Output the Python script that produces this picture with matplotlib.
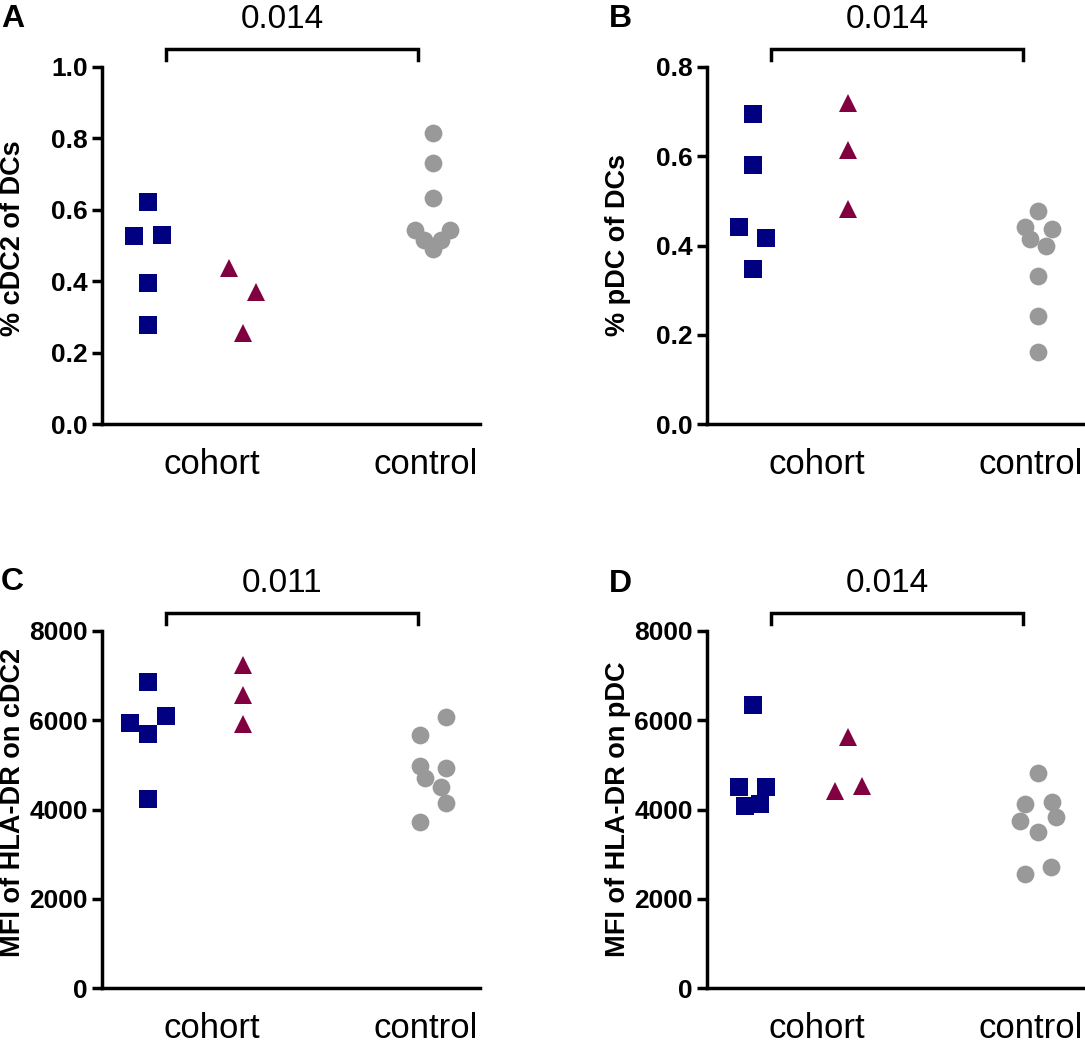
import matplotlib
matplotlib.use("Agg")
import matplotlib.pyplot as plt
import numpy as np

plt.rcParams['font.family'] = ['Liberation Sans', 'DejaVu Sans']

# ---------------- data ----------------
groups = ["cohort (sq)", "cohort (tri)", "control"]
xtick_labels = ["cohort", "control"]

# Panel A: % cDC2 of DCs
a_sq = [0.621, 0.527, 0.529, 0.394, 0.277]
a_tri = [0.438, 0.371, 0.255]
a_circ = [0.814, 0.730, 0.633, 0.543, 0.543, 0.515, 0.515, 0.490]
# Panel B: % pDC of DCs
b_sq = [0.695, 0.580, 0.442, 0.417, 0.348]
b_tri = [0.720, 0.613, 0.481]
b_circ = [0.478, 0.442, 0.436, 0.414, 0.398, 0.331, 0.243, 0.161]
# Panel C: MFI of HLA-DR on cDC2
c_sq = [6863, 6094, 5944, 5690, 4225]
c_tri = [7238, 6565, 5907]
c_circ = [6078, 5661, 4979, 4928, 4710, 4508, 4149, 3709]
# Panel D: MFI of HLA-DR on pDC
d_sq = [6347, 4508, 4508, 4134, 4074]
d_tri = [5629, 4523, 4414]
d_circ = [4808, 4172, 4120, 3822, 3746, 3499, 2714, 2565]

p_values = ["0.014", "0.014", "0.011", "0.014"]
panel_letters = ["A", "B", "C", "D"]
y_labels = ["% cDC2 of DCs", "% pDC of DCs", "MFI of HLA-DR on cDC2", "MFI of HLA-DR on pDC"]
y_ticks = [[0.0, 0.2, 0.4, 0.6, 0.8, 1.0], [0.0, 0.2, 0.4, 0.6, 0.8],
           [0, 2000, 4000, 6000, 8000], [0, 2000, 4000, 6000, 8000]]
y_ticklabels = [["0.0", "0.2", "0.4", "0.6", "0.8", "1.0"], ["0.0", "0.2", "0.4", "0.6", "0.8"],
                ["0", "2000", "4000", "6000", "8000"], ["0", "2000", "4000", "6000", "8000"]]

# horizontal scatter layout (swarm offsets, in pixels)
a_sq_off = [0, -14, 14, 0, 0]
a_tri_off = [-14, 13, 0]
a_circ_off = [0, 0, 0, -17.7, 17.3, -9.3, 8.3, 0]
b_sq_off = [0, 0, -14, 13.3, 0]
b_tri_off = [0, 0, 0]
b_circ_off = [0, -13, 14, -8, 8, 0, 0, 0]
c_sq_off = [0, 18.3, -18, 0, 0]
c_tri_off = [0, 0, 0]
c_circ_off = [13.3, -13.3, -13.3, 13.3, -7.7, 8, 13.3, -13.3]
d_sq_off = [0, -14, 13.3, 7.3, -8.3]
d_tri_off = [0, 14, -12.7]
d_circ_off = [0, 13.7, -13, 18.3, -18, 0, 13.3, -13]

panels = [
    (a_sq, a_tri, a_circ, a_sq_off, a_tri_off, a_circ_off),
    (b_sq, b_tri, b_circ, b_sq_off, b_tri_off, b_circ_off),
    (c_sq, c_tri, c_circ, c_sq_off, c_tri_off, c_circ_off),
    (d_sq, d_tri, d_circ, d_sq_off, d_tri_off, d_circ_off),
]

# ---------------- style ----------------
W, H = 1085, 1045
fig = plt.figure(figsize=(W / 100, H / 100), dpi=100)
navy = "#000080"
maroon = "#800040"
grey = "#999999"
px_per_unit = 95.0
group_pos = [0, 1, 3]

# axes rects in pixels: (spine x, top y, bottom y)
rects = [(102, 67, 424), (707, 67, 424), (102, 631, 988), (707, 631, 988)]
ax_w = 378
ylims = [(0, 1.0), (0, 0.8), (0, 8000), (0, 8000)]
ylabel_y = [0.52, 0.50, 0.52, 0.50]
letter_pos = [(1, 27), (609, 27), (1, 590), (609, 592)]

for i, (sq, tri, circ, so, to, co) in enumerate(panels):
    x0, yt, yb = rects[i]
    ax = fig.add_axes([x0 / W, 1 - yb / H, ax_w / W, (yb - yt) / H])
    ax.set_xlim(-46 / px_per_unit, -46 / px_per_unit + ax_w / px_per_unit)
    ax.set_ylim(*ylims[i])
    for vals, offs, pos, mk, col, ms in [(sq, so, group_pos[0], 's', navy, 13),
                                          (tri, to, group_pos[1], '^', maroon, 12.5),
                                          (circ, co, group_pos[2], 'o', grey, 12.8)]:
        xs = [pos + o / px_per_unit for o in offs]
        ax.plot(xs, vals, linestyle='none', marker=mk, color=col, markersize=ms,
                markeredgewidth=0, clip_on=False, zorder=3)
    for s in ['top', 'right']:
        ax.spines[s].set_visible(False)
    for s in ['left', 'bottom']:
        ax.spines[s].set_linewidth(2.5)
        ax.spines[s].set_capstyle('projecting')
    ax.set_yticks(y_ticks[i])
    ax.set_yticklabels(y_ticklabels[i], fontsize=19, fontweight='bold')
    ax.tick_params(axis='y', length=7, width=2.5, pad=3)
    ax.set_xticks([0.67, 2.92])
    ax.set_xticklabels(xtick_labels, fontsize=25)
    ax.tick_params(axis='x', length=0, pad=17)
    ax.set_ylabel(y_labels[i], fontsize=19.5, fontweight='bold')
    ax.yaxis.set_label_coords(-0.2, ylabel_y[i])
    # significance bracket
    bx0, bx1 = 0.169, 0.835
    ytop = 1 + 18 / (yb - yt)
    ybot = 1 + 7 / (yb - yt)
    ax.plot([bx0, bx0, bx1, bx1], [ybot, ytop, ytop, ybot], color='black', lw=2.5,
            transform=ax.transAxes, clip_on=False, solid_joinstyle='miter')
    ax.text(0.476, 1 + 39 / (yb - yt), p_values[i], transform=ax.transAxes,
            ha='center', va='baseline', fontsize=24)
    lx, ly = letter_pos[i]
    fig.text(lx / W, 1 - ly / H, panel_letters[i], fontsize=23, fontweight='bold',
             ha='left', va='baseline')

fig.savefig("out.png", dpi=100)
